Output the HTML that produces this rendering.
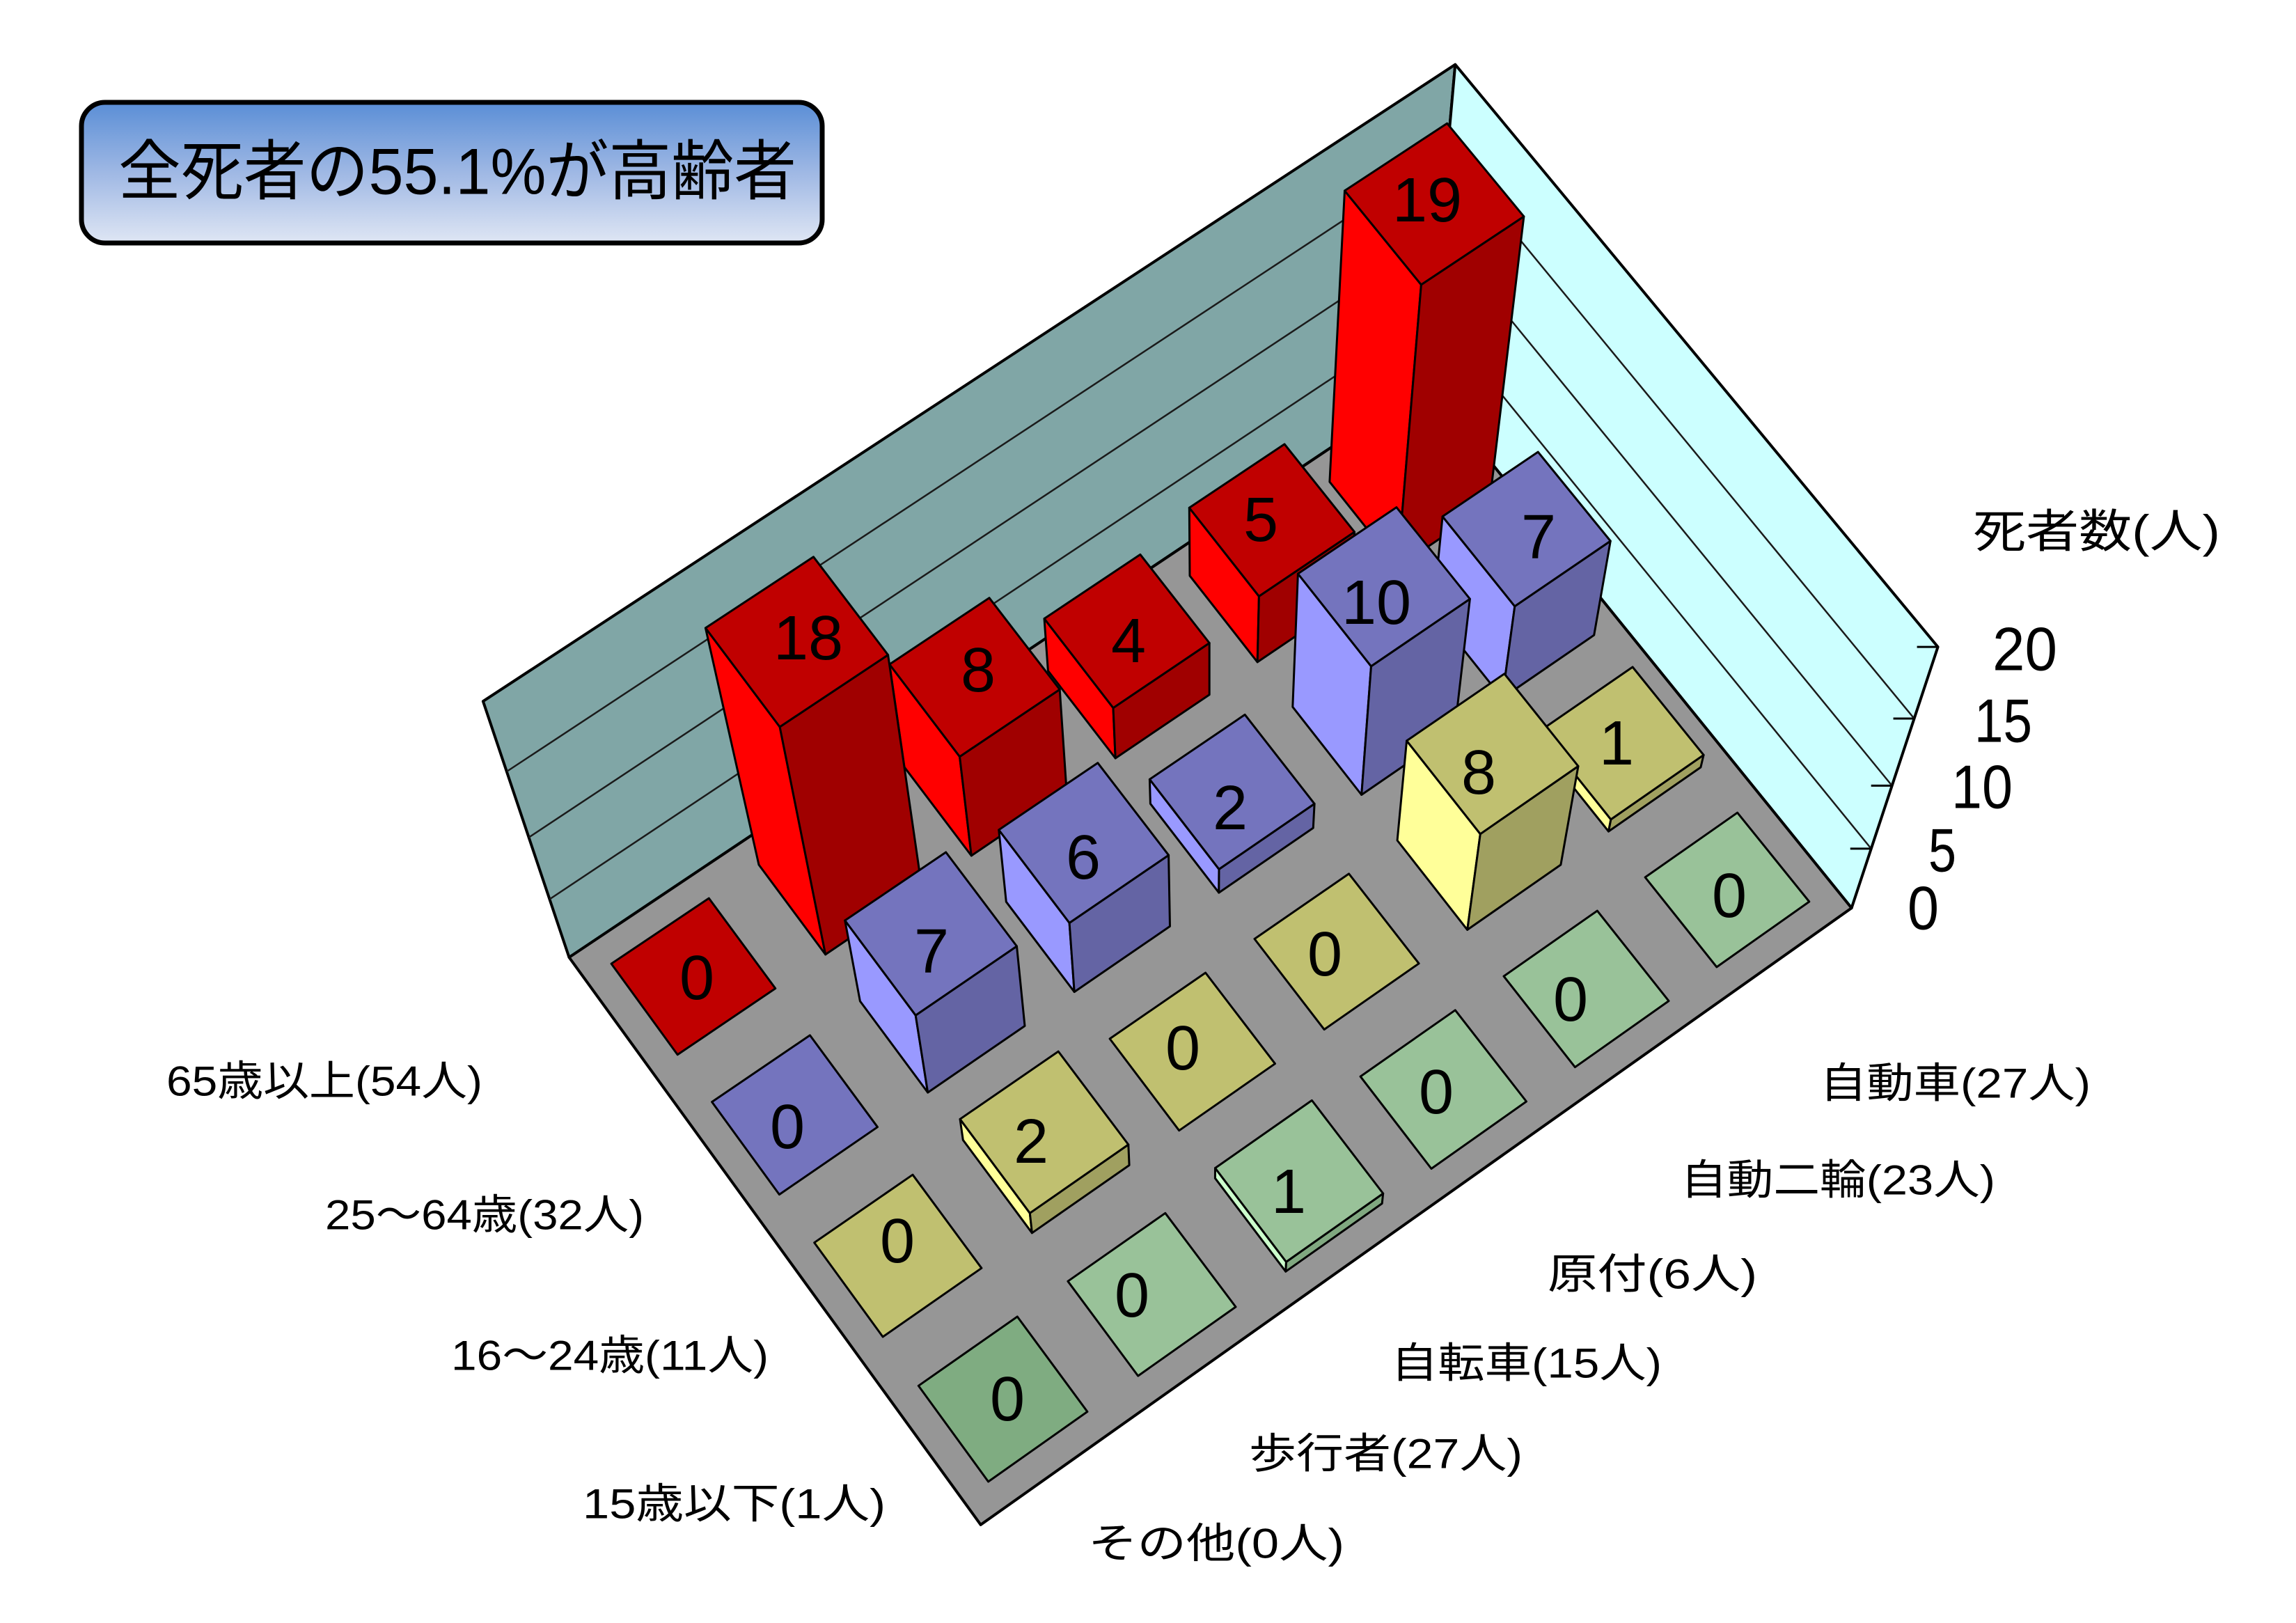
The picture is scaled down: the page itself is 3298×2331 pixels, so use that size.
<!DOCTYPE html>
<html><head><meta charset="utf-8">
<style>
html,body{margin:0;padding:0;background:#fff;}
svg{display:block;}
text{font-family:"Liberation Sans","Noto Sans CJK JP",sans-serif;fill:#000;}
</style></head>
<body>
<svg id="s" xmlns="http://www.w3.org/2000/svg" width="3298" height="2331" viewBox="0 0 3298 2331">
<defs>
<linearGradient id="tg" x1="0" y1="0" x2="0" y2="1">
<stop offset="0" stop-color="#5a8ed6"/>
<stop offset="0.5" stop-color="#9fb8e4"/>
<stop offset="1" stop-color="#dfe6f4"/>
</linearGradient>
</defs>
<rect width="3298" height="2331" fill="#fff"/>
<g id="geo"></g>
<g id="lbl" font-size="90" text-anchor="middle" dominant-baseline="central">
<text x="1001" y="1405">0</text>
<text x="1161" y="917">18</text>
<text x="1405" y="963">8</text>
<text x="1621" y="921">4</text>
<text x="1811" y="747">5</text>
<text x="2050" y="288">19</text>
<text x="1131" y="1619">0</text>
<text x="1338" y="1367">7</text>
<text x="1556" y="1232">6</text>
<text x="1767" y="1161">2</text>
<text x="1977" y="866">10</text>
<text x="2210" y="772">7</text>
<text x="1289" y="1783">0</text>
<text x="1481" y="1640">2</text>
<text x="1699" y="1506">0</text>
<text x="1903" y="1371">0</text>
<text x="2124" y="1110">8</text>
<text x="2322" y="1068">1</text>
<text x="1447" y="2010">0</text>
<text x="1626" y="1861">0</text>
<text x="1851" y="1712">1</text>
<text x="2063" y="1569">0</text>
<text x="2256" y="1436">0</text>
<text x="2484" y="1287">0</text>
</g>
<g font-size="88" dominant-baseline="central">
<text x="2862" y="932" textLength="93" lengthAdjust="spacingAndGlyphs">20</text>
<text x="2836" y="1035" textLength="83" lengthAdjust="spacingAndGlyphs">15</text>
<text x="2803" y="1130" textLength="88" lengthAdjust="spacingAndGlyphs">10</text>
<text x="2770" y="1221" textLength="40" lengthAdjust="spacingAndGlyphs">5</text>
<text x="2740" y="1304" textLength="45" lengthAdjust="spacingAndGlyphs">0</text>
</g>
<text x="2834" y="763" font-size="66" dominant-baseline="central" textLength="355" lengthAdjust="spacingAndGlyphs">死者数(人)</text>
<g font-size="60" dominant-baseline="central">
<text x="239" y="1553" textLength="454" lengthAdjust="spacingAndGlyphs">65歳以上(54人)</text>
<text x="467" y="1745" textLength="458" lengthAdjust="spacingAndGlyphs">25〜64歳(32人)</text>
<text x="648" y="1947" textLength="456" lengthAdjust="spacingAndGlyphs">16〜24歳(11人)</text>
<text x="837" y="2160" textLength="435" lengthAdjust="spacingAndGlyphs">15歳以下(1人)</text>
<text x="2614" y="1556" textLength="389" lengthAdjust="spacingAndGlyphs">自動車(27人)</text>
<text x="2414" y="1695" textLength="452" lengthAdjust="spacingAndGlyphs">自動二輪(23人)</text>
<text x="2223" y="1830" textLength="301" lengthAdjust="spacingAndGlyphs">原付(6人)</text>
<text x="1998" y="1958" textLength="389" lengthAdjust="spacingAndGlyphs">自転車(15人)</text>
<text x="1794" y="2088" textLength="393" lengthAdjust="spacingAndGlyphs">歩行者(27人)</text>
<text x="1563" y="2217" textLength="368" lengthAdjust="spacingAndGlyphs">その他(0人)</text>
</g>
<rect x="117" y="147" width="1064" height="202" rx="34" ry="34" fill="url(#tg)" stroke="#000" stroke-width="7"/>
<text x="170" y="246" font-size="94" dominant-baseline="central" textLength="974" lengthAdjust="spacingAndGlyphs">全死者の55.1%が高齢者</text>
</svg>
<script>
(function(){
var D=0.17;
var P=[
[0,0,0,818,1375],[6,0,0,2050,557],[6,4,0,2661,1303],[0,4,0,1409,2190],
[0,0,5,695,1008],[6,0,5,2090,92],[6,4,5,2783,931],
[6,4,3.75,2748,1032],[6,4,2.5,2717,1128],[6,4,1.25,2688,1217],
[0,0,3.75,728,1107],[0,0,2.5,760,1201],[0,0,1.25,789,1289],
[D,D,0,877,1384],[1-D,D,0,1018,1291],[1-D,1-D,0,1115,1420],[D,1-D,0,973,1514],
[D,3+D,0,1318,1989],[1-D,3+D,0,1462,1891],[1-D,4-D,0,1562,2029],[D,4-D,0,1420,2129],
[1+D,D,4.5,1013,903],[2-D,D,4.5,1168,800],[2-D,1-D,4.5,1277,944],[1+D,1-D,4.5,1120,1046],
[1+D,1-D,0,1186,1371],[1+D,D,0,1088,1241],
[5+D,D,4.75,1930,273],[6-D,D,4.75,2079,176],[6-D,1-D,4.75,2190,310],[5+D,1-D,4.75,2042,407],
[5+D,D,0,1910,690]
];
var n=11,M=[],v=[],i,j,k;
for(i=0;i<n;i++){M.push(new Array(n).fill(0));v.push(0);}
function add(r,b){for(var a=0;a<n;a++){v[a]+=r[a]*b;for(var c=0;c<n;c++)M[a][c]+=r[a]*r[c];}}
P.forEach(function(p){var X=p[0],Y=p[1],Z=p[2],x=p[3]/1000,y=p[4]/1000;
add([X,Y,Z,1,0,0,0,0,-x*X,-x*Y,-x*Z],x);
add([0,0,0,0,X,Y,Z,1,-y*X,-y*Y,-y*Z],y);});
for(k=0;k<n;k++){var m=k;for(i=k+1;i<n;i++)if(Math.abs(M[i][k])>Math.abs(M[m][k]))m=i;
var t=M[k];M[k]=M[m];M[m]=t;t=v[k];v[k]=v[m];v[m]=t;
for(i=k+1;i<n;i++){var f=M[i][k]/M[k][k];for(j=k;j<n;j++)M[i][j]-=f*M[k][j];v[i]-=f*v[k];}}
var p=new Array(n);
for(i=n-1;i>=0;i--){var s=v[i];for(j=i+1;j<n;j++)s-=M[i][j]*p[j];p[i]=s/M[i][i];}
function pr(X,Y,h){var Z=h/4;var w=p[8]*X+p[9]*Y+p[10]*Z+1;
return [(p[0]*X+p[1]*Y+p[2]*Z+p[3])/w*1000,(p[4]*X+p[5]*Y+p[6]*Z+p[7])/w*1000];}
var g=document.getElementById('geo'),NS='http://www.w3.org/2000/svg';
function poly(pts,fill,sw){var e=document.createElementNS(NS,'polygon');
e.setAttribute('points',pts.map(function(q){return q[0].toFixed(1)+','+q[1].toFixed(1);}).join(' '));
e.setAttribute('fill',fill);e.setAttribute('stroke','#000');e.setAttribute('stroke-width',sw||3);
e.setAttribute('stroke-linejoin','round');g.appendChild(e);}
function line(a,b,sw,col){var e=document.createElementNS(NS,'line');
e.setAttribute('x1',a[0]);e.setAttribute('y1',a[1]);e.setAttribute('x2',b[0]);e.setAttribute('y2',b[1]);
e.setAttribute('stroke',col||'#000');e.setAttribute('stroke-width',sw);g.appendChild(e);}
poly([pr(0,0,0),pr(0,0,20),pr(6,0,20),pr(6,0,0)],'#80A6A6',4);
poly([pr(6,0,0),pr(6,0,20),pr(6,4,20),pr(6,4,0)],'#CCFFFF',4);
[5,10,15].forEach(function(h){line(pr(0,0,h),pr(6,0,h),2.5,'#1a1a1a');line(pr(6,0,h),pr(6,4,h),2.5,'#1a1a1a');});
[0,5,10,15,20].forEach(function(h){var a=pr(6,4,h);line([a[0]-30,a[1]],a,3);});
poly([pr(0,0,0),pr(6,0,0),pr(6,4,0),pr(0,4,0)],'#969696',4);
var data=[[0,18,8,4,5,19],[0,7,6,2,10,7],[0,2,0,0,8,1],[0,0,1,0,0,0]];
var col=[['#C00000','#FF0000','#A00000'],['#7474BE','#9999FF','#6464A4'],['#C0C070','#FFFF99','#A0A060'],['#99C299','#CCFFCC','#80A880']];
var cells=[];
for(i=0;i<4;i++)for(j=0;j<6;j++)cells.push([i,j]);
cells.sort(function(a,b){return (a[0]-a[1])-(b[0]-b[1])||a[1]-b[1];});
cells.forEach(function(c){var ti=c[0],sj=c[1],h=data[ti][sj],cl=col[ti];
var s0=sj+D,s1=sj+1-D,t0=ti+D,t1=ti+1-D;var top=cl[0];
if(ti==3&&sj==0)top='#7FAC81';
if(h>0){
poly([pr(s0,t0,0),pr(s0,t1,0),pr(s0,t1,h),pr(s0,t0,h)],cl[1],3);
poly([pr(s0,t1,0),pr(s1,t1,0),pr(s1,t1,h),pr(s0,t1,h)],cl[2],3);}
poly([pr(s0,t0,h),pr(s1,t0,h),pr(s1,t1,h),pr(s0,t1,h)],top,3);});
})();
</script>
</body></html>
